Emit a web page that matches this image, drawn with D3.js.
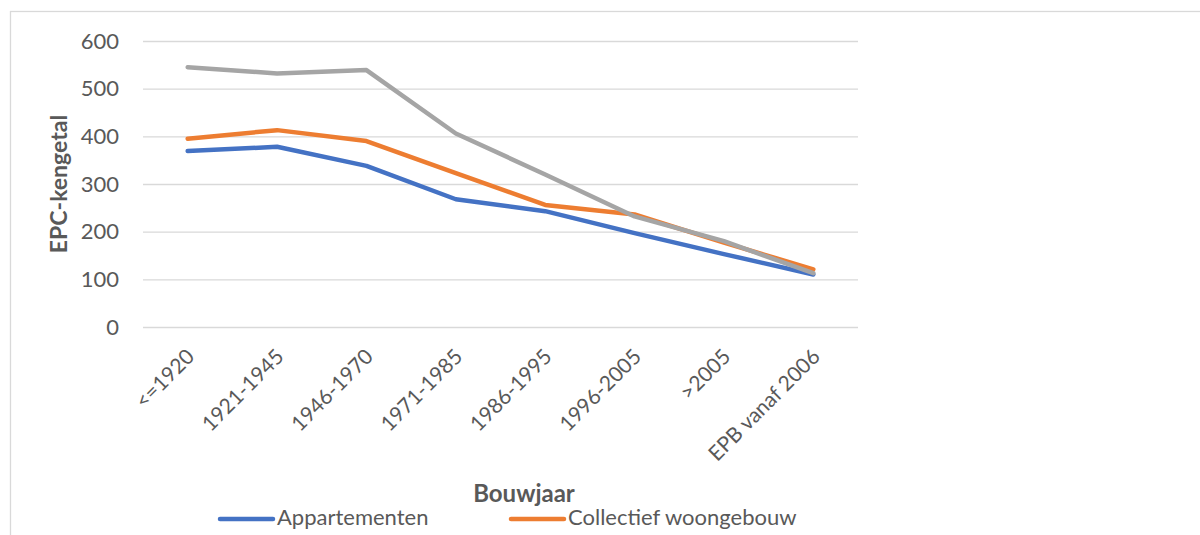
<!DOCTYPE html>
<html><head><meta charset="utf-8">
<script src="https://cdn.jsdelivr.net/npm/d3@7/dist/d3.min.js"></script>
<style>body{margin:0;background:#fff}svg{display:block}text{font-family:Lato,"Open Sans",sans-serif}</style>
</head><body><svg id="c" width="1200" height="535"></svg>
<script>
const categories = ["<=1920","1921-1945","1946-1970","1971-1985","1986-1995","1996-2005",">2005","EPB vanaf 2006"];
const appartementen = [369, 378, 338, 268, 243, 197, 153, 110];
const collectief = [395, 413, 390, 323, 256, 236, 177, 121];
const reeks3 = [545, 532, 539, 406, 320, 232, 180, 113];
const yTicks = [0,100,200,300,400,500,600];
const seriesNames = ["Appartementen","Collectief woongebouw"];

const svg = d3.select("#c");
const pL=143, pR=858, pT=41, pB=327;
svg.append("rect").attr("x",10.5).attr("y",11.5).attr("width",1300).attr("height",600)
  .attr("fill","none").attr("stroke","#d9d9d9").attr("stroke-width",1.3);

const x = d3.scaleBand().domain(categories).range([pL,pR]);
const y = d3.scaleLinear().domain([0,600]).range([pB,pT]);

const ya = svg.append("g").attr("transform",`translate(${pL},0)`)
  .call(d3.axisLeft(y).tickValues(yTicks).tickSize(-(pR-pL)).tickPadding(24));
ya.select(".domain").remove();
ya.selectAll(".tick line").attr("stroke","#d9d9d9").attr("stroke-width",1.3);
ya.selectAll(".tick text").attr("fill","#595959").style("font-size","22px");

const xa = svg.append("g").attr("transform",`translate(0,${pB})`)
  .call(d3.axisBottom(x).tickSize(0).tickPadding(0));
xa.select(".domain").remove();
xa.selectAll(".tick text").attr("fill","#595959").style("font-size","21px")
  .attr("text-anchor","end").attr("dy",0)
  .attr("transform","translate(8,31) rotate(-45)");

const line = d3.line().x((d,i)=>x(categories[i])+x.bandwidth()/2).y(d=>y(d));
[[appartementen,"#4472C4"],[collectief,"#ED7D31"],[reeks3,"#A5A5A5"]].forEach(([s,c])=>{
  svg.append("path").datum(s).attr("d",line).attr("fill","none").attr("stroke",c)
    .attr("stroke-width",4.5).attr("stroke-linecap","round").attr("stroke-linejoin","round");
});

svg.append("text").attr("x",61).attr("y",184).attr("transform","rotate(-90,61,184)")
  .attr("text-anchor","middle").attr("dominant-baseline","middle").attr("font-weight","bold")
  .attr("fill","#595959").style("font-size","23px").text("EPC-kengetal");
svg.append("text").attr("x",524).attr("y",502).attr("text-anchor","middle")
  .attr("font-weight","bold").attr("fill","#595959").style("font-size","24px").text("Bouwjaar");

const legX=[218,509], legColors=["#4472C4","#ED7D31"];
seriesNames.forEach((n,i)=>{
  svg.append("line").attr("x1",legX[i]+2).attr("x2",legX[i]+55).attr("y1",519).attr("y2",519)
    .attr("stroke",legColors[i]).attr("stroke-width",4.5).attr("stroke-linecap","round");
  svg.append("text").attr("x",legX[i]+59).attr("y",525).attr("fill","#595959")
    .style("font-size","22px").text(n);
});
</script></body></html>
